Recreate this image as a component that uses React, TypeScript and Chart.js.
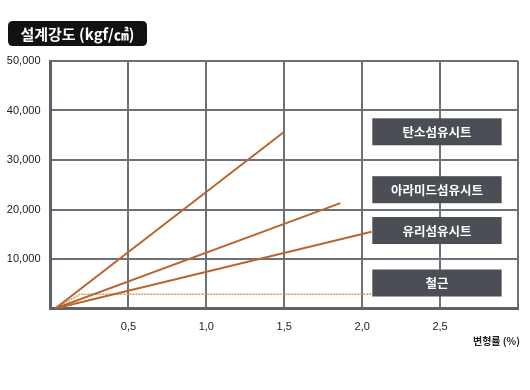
import React, { useEffect, useRef } from "react";
import { Chart, registerables } from "chart.js";

Chart.register(...registerables);

const titleText = "설계강도 (kgf/㎠)";
const xAxisTitle = "변형률 (%)";
const seriesNames = ["탄소섬유시트", "아라미드섬유시트", "유리섬유시트", "철근"];
const carbonPoints = [
  { x: 0.03, y: 0 },
  { x: 1.5, y: 35700 },
];
const aramidPoints = [
  { x: 0.03, y: 0 },
  { x: 1.86, y: 21300 },
];
const glassPoints = [
  { x: 0.03, y: 0 },
  { x: 2.06, y: 15500 },
];
const steelPoints = [
  { x: 0.03, y: 0 },
  { x: 0.19, y: 2900 },
  { x: 2.06, y: 2900 },
];
// label box centres (data units)
const labelY = [35700, 24000, 15750, 5150];
const labelXRange = [2.065, 2.895];

const FONT = "'Liberation Sans', Arial, sans-serif";
const KFONT = "'Noto Sans CJK KR', 'Noto Sans', sans-serif";

const overlayPlugin = {
  id: "overlay",
  afterDraw(chart: any) {
    const ctx = chart.ctx;
    const xs = chart.scales.x;
    const ys = chart.scales.y;
    ctx.save();
    const x1 = xs.getPixelForValue(labelXRange[0]);
    const x2 = xs.getPixelForValue(labelXRange[1]);
    seriesNames.forEach((name, i) => {
      const cy = ys.getPixelForValue(labelY[i]);
      ctx.fillStyle = "#4b4e55";
      ctx.fillRect(x1, cy - 13.5, x2 - x1, 27);
      ctx.fillStyle = "#ffffff";
      ctx.font = `bold 12.5px ${KFONT}`;
      ctx.textAlign = "center";
      ctx.textBaseline = "middle";
      ctx.fillText(name, (x1 + x2) / 2, cy + 0.5);
    });
    // title
    const tx = 8, ty = 21, tw = 139, th = 25, r = 5;
    ctx.fillStyle = "#111111";
    ctx.beginPath();
    ctx.moveTo(tx + r, ty);
    ctx.lineTo(tx + tw - r, ty);
    ctx.quadraticCurveTo(tx + tw, ty, tx + tw, ty + r);
    ctx.lineTo(tx + tw, ty + th - r);
    ctx.quadraticCurveTo(tx + tw, ty + th, tx + tw - r, ty + th);
    ctx.lineTo(tx + r, ty + th);
    ctx.quadraticCurveTo(tx, ty + th, tx, ty + th - r);
    ctx.lineTo(tx, ty + r);
    ctx.quadraticCurveTo(tx, ty, tx + r, ty);
    ctx.closePath();
    ctx.fill();
    ctx.fillStyle = "#ffffff";
    ctx.font = `bold 15px ${KFONT}`;
    ctx.textAlign = "center";
    ctx.textBaseline = "middle";
    ctx.fillText(titleText, tx + tw / 2, ty + th / 2 + 0.5);
    // x axis title
    ctx.fillStyle = "#222222";
    ctx.font = `bold 10px ${KFONT}`;
    ctx.textAlign = "right";
    ctx.fillText(xAxisTitle, 520, 341);
    ctx.restore();
  },
};

export default function App() {
  const ref = useRef<HTMLCanvasElement>(null);
  useEffect(() => {
    if (!ref.current) return;
    const lineColor = "#b8652e";
    const chart = new Chart(ref.current, {
      type: "line",
      data: {
        datasets: [
          { label: seriesNames[0], data: carbonPoints, borderColor: lineColor, borderWidth: 2 },
          { label: seriesNames[1], data: aramidPoints, borderColor: lineColor, borderWidth: 2 },
          { label: seriesNames[2], data: glassPoints, borderColor: lineColor, borderWidth: 2 },
          {
            label: seriesNames[3],
            data: steelPoints,
            borderColor: "#d49a6e",
            borderWidth: 1.5,
            borderDash: [2, 1],
          },
        ],
      },
      options: {
        animation: false,
        responsive: false,
        parsing: false as any,
        elements: { point: { radius: 0 }, line: { tension: 0 } },
        layout: { padding: { top: 61, right: 10, left: 0, bottom: 0 } },
        plugins: { legend: { display: false }, tooltip: { enabled: false } },
        scales: {
          x: {
            type: "linear",
            min: 0,
            max: 3,
            afterFit: (s: any) => {
              s.height = 81.5;
            },
            grid: { color: "#6e7077", lineWidth: 2, drawTicks: false },
            border: { color: "#5e6167", width: 3 },
            ticks: {
              stepSize: 0.5,
              padding: 12,
              color: "#1a1a1a",
              font: { family: FONT, size: 11 },
              callback: (v: any) =>
                v === 0 || v === 3 ? "" : Number(v).toFixed(1).replace(".", ","),
            },
          },
          y: {
            min: 0,
            max: 50000,
            afterFit: (s: any) => {
              s.width = 50.5;
            },
            grid: { color: "#6e7077", lineWidth: 2, drawTicks: false },
            border: { color: "#5e6167", width: 3 },
            ticks: {
              stepSize: 10000,
              padding: 10,
              color: "#1a1a1a",
              font: { family: FONT, size: 11 },
              callback: (v: any) => (v === 0 ? "" : Number(v).toLocaleString("en-US")),
            },
          },
        },
      },
      plugins: [overlayPlugin],
    });
    return () => chart.destroy();
  }, []);
  return (
    <div style={{ position: "fixed", left: 0, top: 0, width: 530, height: 390, background: "#fff" }}>
      <canvas ref={ref} width={530} height={390} />
    </div>
  );
}
